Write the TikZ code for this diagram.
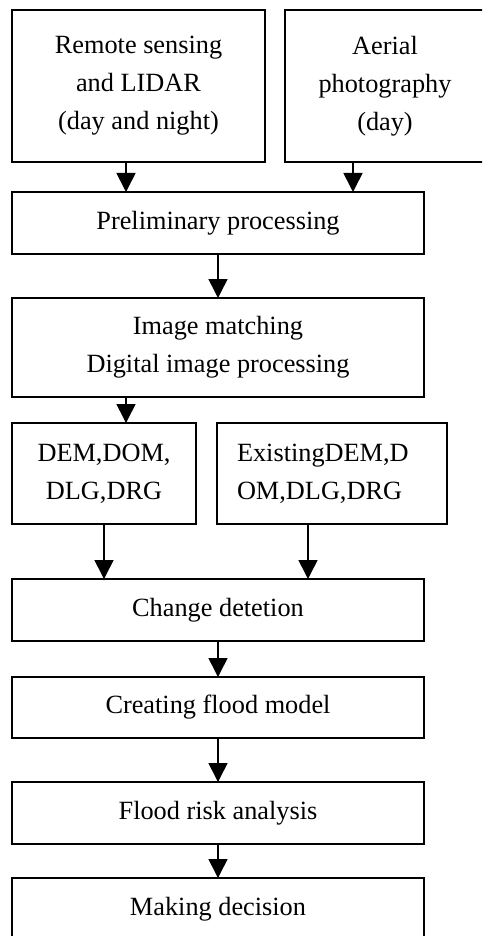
\documentclass[tikz,border=0pt]{standalone}
\usepackage{fontspec}
\setmainfont{Liberation Serif}
\usetikzlibrary{positioning,calc,arrows.meta}
\tikzstyle{blk} = [rectangle, draw, line width=1.6pt, align=center,
    minimum width=412pt, minimum height=62pt, inner sep=0pt, outer sep=0pt]
\tikzstyle{arr} = [-{Triangle[width=19pt,length=19pt]}, line width=1.6pt]

\begin{document}
\begin{tikzpicture}[x=1pt,y=1pt,font=\fontsize{26.3}{38}\selectfont]
  \useasboundingbox (0,0) rectangle (482,-936);
  \clip (0,0) rectangle (482,-936);

  \node[blk, minimum width=253pt, minimum height=152pt, anchor=north west]
       (remote) at (12,-10) {Remote sensing\\and LIDAR\\(day and night)};
  \node[blk, minimum width=200pt, minimum height=152pt] (aerial) [right=20pt of remote] {Aerial\\photography\\(day)};
  \node[blk]          (prelim) [below=30pt of remote.south west, anchor=north west] {Preliminary processing};
  \node[blk, minimum height=99pt] (match) [below=44pt of prelim] {Image matching\\Digital image processing};
  \node[blk, minimum width=184pt, minimum height=101pt] (dem) [below=26pt of match.south west, anchor=north west] {DEM,DOM,\\DLG,DRG};
  \node[blk, minimum width=230pt, minimum height=101pt, text width=190pt, align=left] (exist) [right=21pt of dem] {ExistingDEM,D\\OM,DLG,DRG};
  \node[blk]          (change) [below=55pt of dem.south west, anchor=north west] {Change detetion};
  \node[blk, minimum height=61pt] (model) [below=36pt of change] {Creating flood model};
  \node[blk]          (risk) [below=44pt of model] {Flood risk analysis};
  \node[blk]          (decide) [below=34pt of risk] {Making decision};

  \draw[arr] ($(remote.south west)+(114,0)$) coordinate (r1) -- (r1 |- prelim.north);
  \draw[arr] ($(aerial.south west)+(68,0)$) coordinate (a1) -- (a1 |- prelim.north);
  \draw[arr] (prelim) -- (match);
  \draw[arr] ($(match.south west)+(114,0)$) coordinate (m1) -- (m1 |- dem.north);
  \draw[arr] (dem.south) -- (dem.south |- change.north);
  \draw[arr] ($(exist.south west)+(91,0)$) coordinate (e1) -- (e1 |- change.north);
  \draw[arr] (change) -- (model);
  \draw[arr] (model) -- (risk);
  \draw[arr] (risk) -- (decide);
\end{tikzpicture}
\end{document}
